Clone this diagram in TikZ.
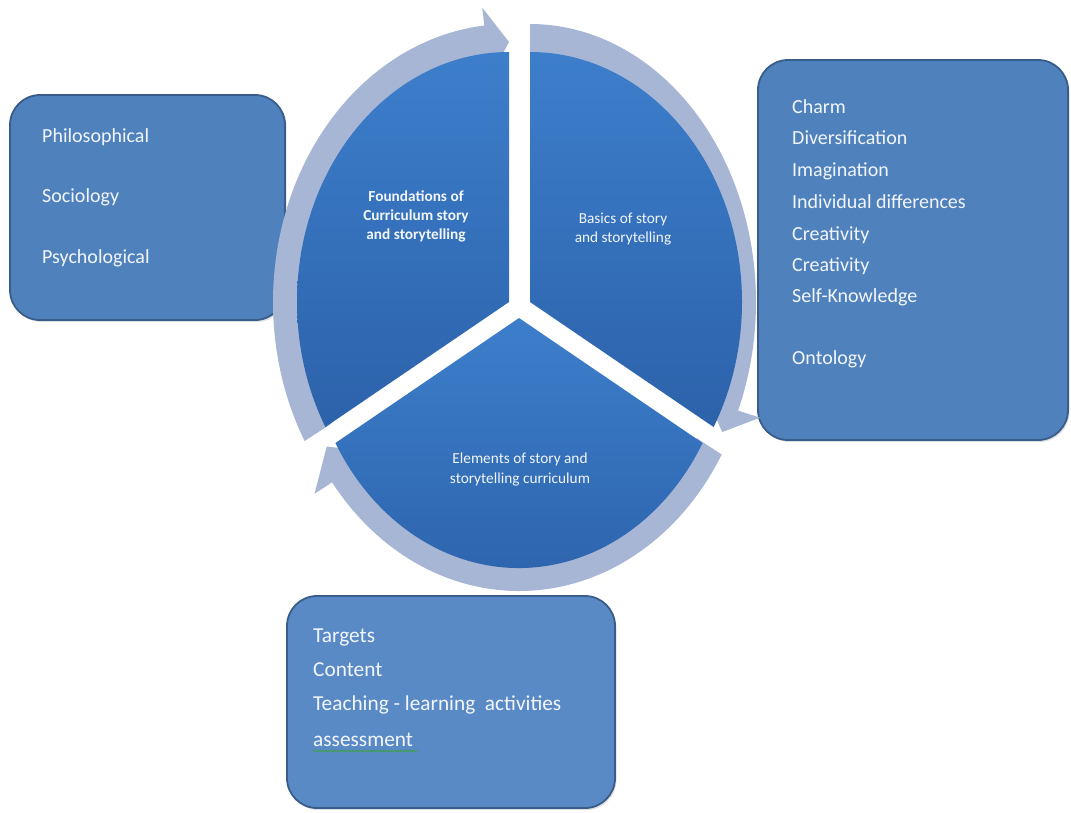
\documentclass[tikz,border=0pt]{standalone}
\usepackage{fontspec}
\setmainfont{Carlito}
\usetikzlibrary{calc,decorations.pathmorphing,shadows}
\definecolor{boxfill}{HTML}{4F81BD}
\definecolor{boxfilllight}{HTML}{5A8AC6}
\definecolor{boxline}{HTML}{385D8A}
\definecolor{wedgetop}{HTML}{3D7ECB}
\definecolor{wedgebot}{HTML}{2C62AA}
\definecolor{ringc}{HTML}{A7B6D5}
\definecolor{txt}{HTML}{F2F6FB}
\definecolor{squig}{HTML}{3F9F4A}
\begin{document}
\begin{tikzpicture}[x=1pt,y=-1pt,
  infobox/.style={draw=boxline, line width=1.8pt, fill=boxfill, rounded corners=30pt, inner sep=0pt,
    drop shadow={shadow xshift=1.5pt, shadow yshift=-2pt, opacity=0.25}},
  boxtxt/.style={text=txt, font=\fontsize{20}{24}\selectfont, anchor=base west, inner sep=0pt},
  boxtxtl/.style={boxtxt, font=\fontsize{21.3}{25}\selectfont},
  wtxt/.style={text=txt, font=\fontsize{15.3}{18}\selectfont, anchor=base, inner sep=0pt},
  wtxtb/.style={wtxt, font=\fontsize{15.3}{18}\selectfont\bfseries},
  wedge/.style={top color=wedgetop, bottom color=wedgebot},
  ring/.style={fill=ringc}]
\useasboundingbox (0,0) rectangle (1071,812);
\fill[white] (0,0) rectangle (1071,812);

% boxes
\node[infobox, minimum width=275pt, minimum height=225pt] (lbox) at (147.5,207.5) {};
\node[infobox, fill=boxfilllight, minimum width=328pt, minimum height=212pt] (bbox) at (451,702) {};
\node[infobox, minimum width=310pt, minimum height=380pt] (rbox) at (913,250) {};

% wedge apexes
\coordinate (c1) at (509,302);
\coordinate (c2) at (530,302);
\coordinate (c3) at (519,318);

% ring arrows
\fill[ring] ($(c1)+(150:236 and 278)$) arc[start angle=150,end angle=264,x radius=236,y radius=278]
  -- ($(c1)+(264:256 and 296)$) -- ($(c1)+(270:222 and 260)$) -- ($(c1)+(264:188 and 224)$)
  -- ($(c1)+(264:205 and 243)$) arc[start angle=264,end angle=150,x radius=205,y radius=243] -- cycle;
\fill[ring] ($(c2)+(270:226 and 278)$) arc[start angle=270,end angle=383,x radius=226,y radius=278]
  -- ($(c2)+(383:250 and 296)$) -- ($(c2)+(390:222 and 260)$) -- ($(c2)+(383:188 and 224)$)
  -- ($(c2)+(383:205 and 243)$) arc[start angle=383,end angle=270,x radius=205,y radius=243] -- cycle;
\fill[ring] ($(c3)+(30:234 and 273)$) arc[start angle=30,end angle=143,x radius=234,y radius=273]
  -- ($(c3)+(143:256 and 292)$) -- ($(c3)+(150:222 and 257)$) -- ($(c3)+(143:188 and 222)$)
  -- ($(c3)+(143:205 and 240)$) arc[start angle=143,end angle=30,x radius=205,y radius=240] -- cycle;

% wedges
\shade[wedge] (c1) -- ($(c1)+(270:212 and 250)$) arc[start angle=270,end angle=150,x radius=212,y radius=250] -- cycle;
\shade[wedge] (c2) -- ($(c2)+(270:212 and 250)$) arc[start angle=270,end angle=390,x radius=212,y radius=250] -- cycle;
\shade[wedge] (c3) -- ($(c3)+(30:212 and 250)$) arc[start angle=30,end angle=150,x radius=212,y radius=250] -- cycle;

% wedge texts
\node[wtxtb] (f1) at (416,201) {Foundations of};
\node[wtxtb] (f2) at (416,220) {Curriculum story};
\node[wtxtb] (f3) at (416,239) {and storytelling};
\node[wtxt] (b1) at (623,223) {Basics of story};
\node[wtxt] (b2) at (623,242) {and storytelling};
\node[wtxt] (e1) at (520,463) {Elements of story and};
\node[wtxt] (e2) at (520,483) {storytelling curriculum};

% left box text
\node[boxtxt] (l1) at (42,142) {Philosophical};
\node[boxtxt] (l2) at (42,202) {Sociology};
\node[boxtxt] (l3) at (42,263) {Psychological};

% right box text
\node[boxtxt] (r1) at (792,113) {Charm};
\node[boxtxt] (r2) at (792,144) {Diversification};
\node[boxtxt] (r3) at (792,176) {Imagination};
\node[boxtxt] (r4) at (792,208) {Individual differences};
\node[boxtxt] (r5) at (792,240) {Creativity};
\node[boxtxt] (r6) at (792,271) {Creativity};
\node[boxtxt] (r7) at (792,302) {Self-Knowledge};
\node[boxtxt] (r8) at (792,364) {Ontology};

% bottom box text
\node[boxtxtl] (t1) at (313,642) {Targets};
\node[boxtxtl] (t2) at (313,676) {Content};
\node[boxtxtl] (t3) at (313,710) {Teaching - learning\ \ activities};
\node[boxtxtl] (t4) at (313,746) {assessment};
\coordinate (sq1) at (313,751);
\coordinate (sq2) at (418,751);
\draw[squig, line width=0.8pt, decorate, decoration={snake, amplitude=0.8pt, segment length=3pt}] (sq1) -- (sq2);
\end{tikzpicture}
\end{document}
